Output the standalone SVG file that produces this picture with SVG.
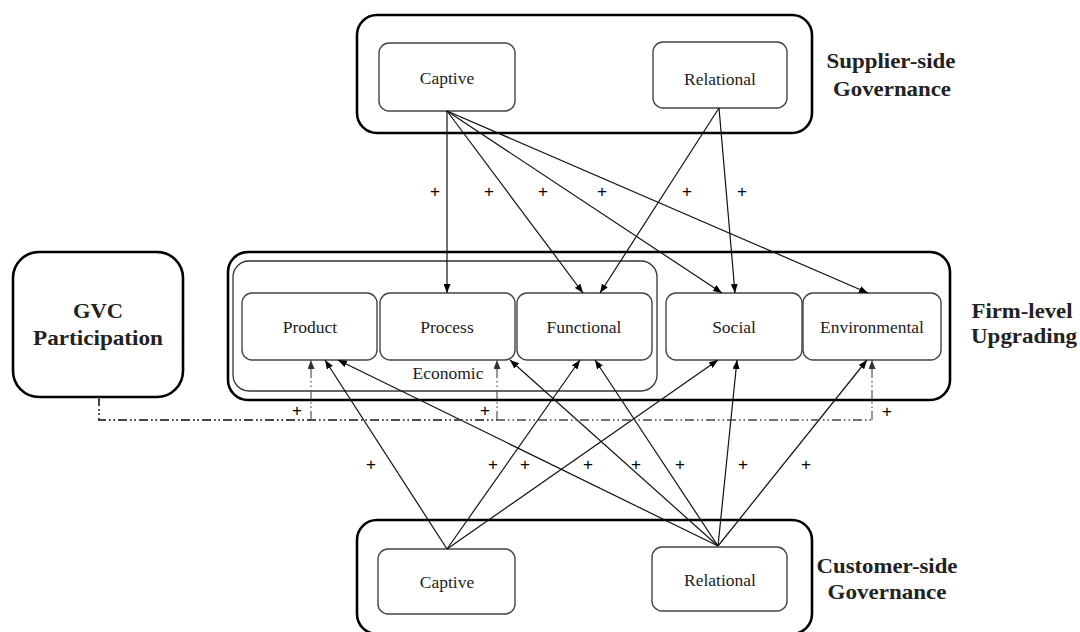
<svg xmlns="http://www.w3.org/2000/svg" width="1080" height="632" viewBox="0 0 1080 632">
<defs>
<marker id="ah" markerUnits="userSpaceOnUse" markerWidth="9" markerHeight="7" refX="9" refY="3.5" orient="auto">
<path d="M0,0 L9,3.5 L0,7 z" fill="#000"/>
</marker>
<marker id="ahg" markerUnits="userSpaceOnUse" markerWidth="9" markerHeight="7" refX="9" refY="3.5" orient="auto">
<path d="M0,0 L9,3.5 L0,7 z" fill="#333"/>
</marker>
<style>
.outer{fill:none;stroke:#000;stroke-width:2.6}
.node{fill:#fff;stroke:#444;stroke-width:1.4}
.eco{fill:none;stroke:#333;stroke-width:1.3}
.lbl{font-family:"Liberation Serif","Times New Roman",serif;font-size:17.5px;fill:#222;text-anchor:middle}
.big{font-family:"Liberation Serif","Times New Roman",serif;font-size:21px;font-weight:bold;fill:#222;text-anchor:middle}
.plus{font-family:"Liberation Sans",Arial,sans-serif;font-size:17px;fill:#000;text-anchor:middle}
.arr{fill:none;stroke:#111;stroke-width:1.2;marker-end:url(#ah)}
.dd{fill:none;stroke:#444;stroke-width:1.7;stroke-dasharray:9 3 1.5 3 1.5 3}
.ddv{fill:none;stroke:#555;stroke-width:1.2;stroke-dasharray:9 3 1.5 3 1.5 3;marker-end:url(#ahg)}
</style>
</defs>

<g id="supplier-side">
<rect class="outer" x="357" y="15" width="455" height="118" rx="20"/>
<text class="big" x="891" y="68" textLength="129" lengthAdjust="spacingAndGlyphs">Supplier-side</text>
<text class="big" x="892" y="96" textLength="118" lengthAdjust="spacingAndGlyphs">Governance</text>
</g>
<g id="supplier-captive">
<rect class="node" x="379" y="43" width="136" height="68" rx="10"/>
<text class="lbl" x="447" y="84">Captive</text>
</g>
<g id="supplier-relational">
<rect class="node" x="653" y="42" width="134" height="66" rx="10"/>
<text class="lbl" x="720" y="85">Relational</text>
</g>

<g id="gvc">
<rect class="outer" x="13" y="252" width="170" height="145" rx="26"/>
<text class="big" x="98" y="318" textLength="50" lengthAdjust="spacingAndGlyphs">GVC</text>
<text class="big" x="98" y="345" textLength="130" lengthAdjust="spacingAndGlyphs">Participation</text>
</g>

<g id="firm-level">
<rect class="outer" x="228" y="252" width="722" height="148" rx="20"/>
<text class="big" x="1022" y="318" textLength="101" lengthAdjust="spacingAndGlyphs">Firm-level</text>
<text class="big" x="1024" y="343" textLength="106" lengthAdjust="spacingAndGlyphs">Upgrading</text>
</g>
<g id="economic">
<rect class="eco" x="233" y="261" width="424" height="130" rx="16"/>
<text class="lbl" x="448" y="379">Economic</text>
</g>
<g id="product">
<rect class="node" x="242" y="293" width="135" height="67" rx="10"/>
<text class="lbl" x="310" y="333">Product</text>
</g>
<g id="process">
<rect class="node" x="380" y="293" width="135" height="67" rx="10"/>
<text class="lbl" x="447" y="333">Process</text>
</g>
<g id="functional">
<rect class="node" x="517" y="293" width="135" height="67" rx="10"/>
<text class="lbl" x="584" y="333">Functional</text>
</g>
<g id="social">
<rect class="node" x="666" y="293" width="136" height="67" rx="10"/>
<text class="lbl" x="734" y="333">Social</text>
</g>
<g id="environmental">
<rect class="node" x="803" y="293" width="138" height="67" rx="10"/>
<text class="lbl" x="872" y="333">Environmental</text>
</g>

<g id="customer-side">
<rect class="outer" x="357" y="520" width="455" height="114" rx="20"/>
<text class="big" x="887" y="573" textLength="141" lengthAdjust="spacingAndGlyphs">Customer-side</text>
<text class="big" x="887" y="599" textLength="119" lengthAdjust="spacingAndGlyphs">Governance</text>
</g>
<g id="customer-captive">
<rect class="node" x="378" y="549" width="137" height="65" rx="10"/>
<text class="lbl" x="447" y="588">Captive</text>
</g>
<g id="customer-relational">
<rect class="node" x="652" y="547" width="135" height="64" rx="10"/>
<text class="lbl" x="720" y="586">Relational</text>
</g>

<g id="connectors">
<path class="arr" d="M447,111 L447,293"/>
<path class="arr" d="M447,111 L583,293"/>
<path class="arr" d="M447,111 L722,293"/>
<path class="arr" d="M447,111 L868,293"/>
<path class="arr" d="M719,108 L600,293"/>
<path class="arr" d="M719,108 L735,293"/>

<path class="arr" d="M447,549 L325,360"/>
<path class="arr" d="M447,549 L580,360"/>
<path class="arr" d="M447,549 L718,360"/>
<path class="arr" d="M718,546 L338,360"/>
<path class="arr" d="M718,546 L510,360"/>
<path class="arr" d="M718,546 L595,360"/>
<path class="arr" d="M718,546 L737,360"/>
<path class="arr" d="M718,546 L867,360"/>

<path class="dd" d="M99,397 L99,420 L311,420"/>
<path class="dd" d="M99,397 L99,420 L497,420"/>
<path class="dd" d="M99,397 L99,420 L872,420"/>
<path class="ddv" d="M311,420 L311,360"/>
<path class="ddv" d="M497,420 L497,360"/>
<path class="ddv" d="M872,420 L872,360"/>

<text class="plus" x="435" y="197">+</text>
<text class="plus" x="489" y="197">+</text>
<text class="plus" x="543" y="197">+</text>
<text class="plus" x="602" y="197">+</text>
<text class="plus" x="687" y="197">+</text>
<text class="plus" x="742" y="197">+</text>

<text class="plus" x="297" y="416">+</text>
<text class="plus" x="485" y="416">+</text>
<text class="plus" x="887" y="417">+</text>

<text class="plus" x="371" y="470">+</text>
<text class="plus" x="493" y="470">+</text>
<text class="plus" x="525" y="470">+</text>
<text class="plus" x="588" y="470">+</text>
<text class="plus" x="636" y="470">+</text>
<text class="plus" x="680" y="470">+</text>
<text class="plus" x="743" y="470">+</text>
<text class="plus" x="806" y="470">+</text>
</g>
</svg>
